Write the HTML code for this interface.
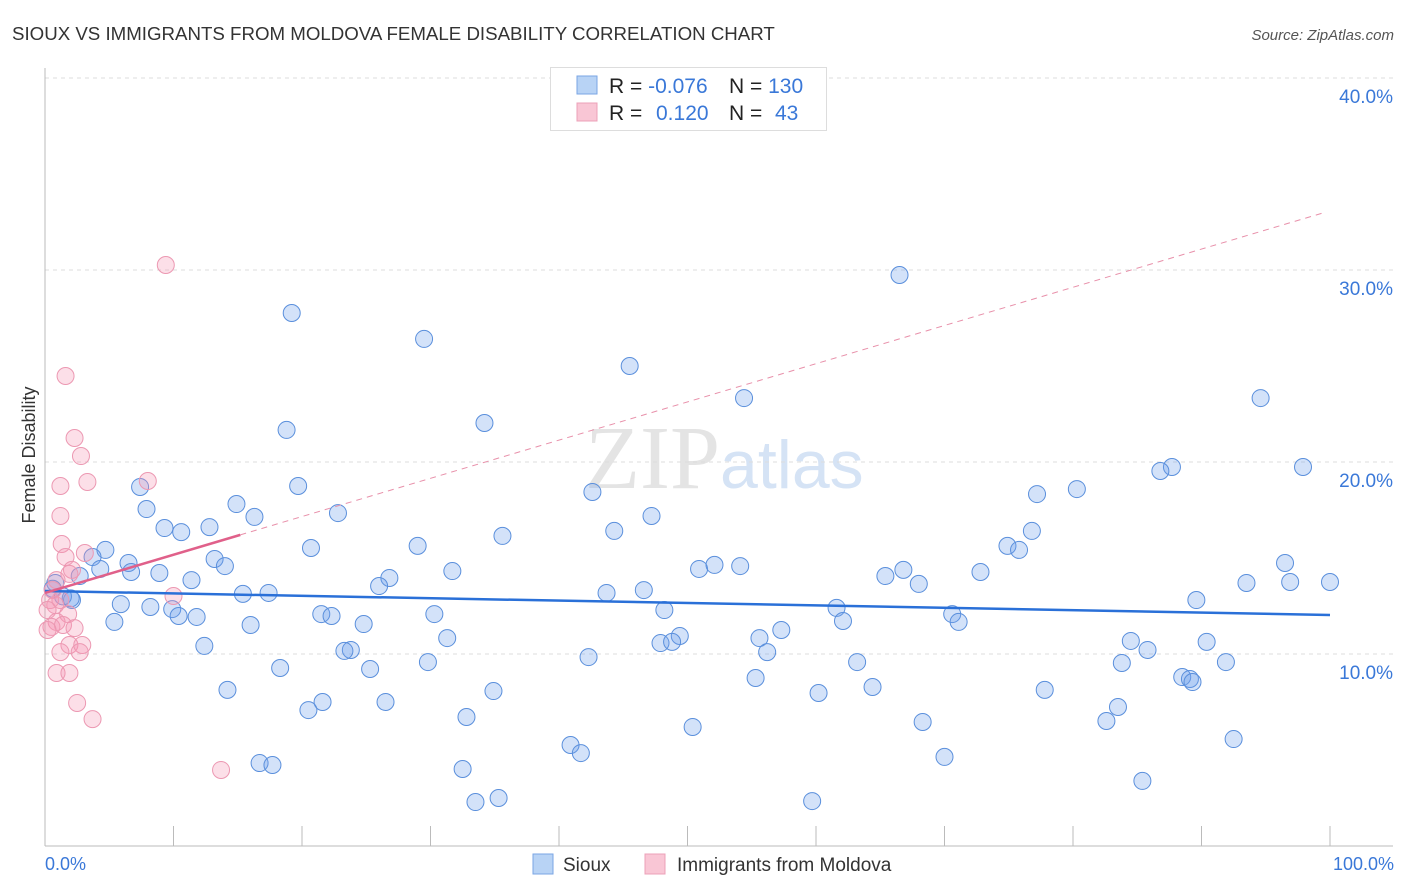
<!DOCTYPE html>
<html><head><meta charset="utf-8"><style>
body{margin:0;background:#fff;font-family:"Liberation Sans",sans-serif;}
svg{display:block}
</style></head><body>
<svg id="chart" width="1406" height="892">
<text x="12" y="40" font-size="18.7" fill="#333">SIOUX VS IMMIGRANTS FROM MOLDOVA FEMALE DISABILITY CORRELATION CHART</text>
<text x="1394" y="40" font-size="15" fill="#555" font-style="italic" text-anchor="end">Source: ZipAtlas.com</text>
<text x="720" y="488" font-size="90" fill="#e4e4e4" text-anchor="end" font-family="Liberation Serif,serif">ZIP</text>
<text x="720" y="488" font-size="68" fill="#d5e3f5">atlas</text>
<g id="grid"></g><g id="axes"></g><g id="pts"></g><g id="trend"></g>
<text x="35" y="455" font-size="18" fill="#333" text-anchor="middle" transform="rotate(-90 35 455)">Female Disability</text>
<text x="45" y="870" font-size="18" fill="#3a78d8">0.0%</text>
<text x="1394" y="870" font-size="18" fill="#3a78d8" text-anchor="end">100.0%</text>
<g>
<rect x="550.5" y="67.5" width="276" height="63" fill="#fff" stroke="#ddd"/>
<rect x="577" y="76" width="20" height="18" fill="#b8d3f5" stroke="#7aa6e4"/>
<rect x="577" y="103" width="20" height="18" fill="#f9c6d5" stroke="#eca0b8"/>
<text x="609" y="93" font-size="21" fill="#222">R = <tspan fill="#3a78d8">-0.076</tspan></text>
<text x="729" y="93" font-size="21" fill="#222">N = <tspan fill="#3a78d8">130</tspan></text>
<text x="609" y="120" font-size="21" fill="#222">R = <tspan fill="#3a78d8" x="656">0.120</tspan></text>
<text x="729" y="120" font-size="21" fill="#222">N = <tspan fill="#3a78d8" x="775">43</tspan></text>
</g>
<g>
<rect x="533" y="854" width="20" height="20" fill="#b8d3f5" stroke="#7aa6e4"/>
<text x="563" y="871" font-size="19" fill="#333">Sioux</text>
<rect x="645" y="854" width="20" height="20" fill="#f9c6d5" stroke="#eca0b8"/>
<text x="677" y="871" font-size="19" fill="#333">Immigrants from Moldova</text>
</g>
</svg>
<script>
const yTicks=[10,20,30,40];
const yTickLabels=["10.0%","20.0%","30.0%","40.0%"];
const xTicks=[0,10,20,30,40,50,60,70,80,90,100];
const siouxX=[19.2,29.5,45.5,66.5,54.4,34.2,18.8,94.6,97.9,87.7,86.8,80.3,77.2,19.7,7.4,42.6,14.9,7.9,16.3,22.8,47.2,12.8,9.3,10.6,44.3,35.6,76.8,29.0,20.7,74.9,75.8,4.7,3.7,13.2,4.3,6.5,14.0,50.9,52.1,54.1,66.8,65.4,96.5,31.7,8.9,6.7,2.7,11.4,26.8,26.0,72.8,68.0,100.0,93.5,96.9,46.6,0.8,15.4,17.4,43.7,89.6,2.1,5.9,8.2,9.9,10.4,11.8,48.2,61.6,21.5,22.3,30.3,70.6,62.1,71.1,5.4,16.0,24.8,57.3,31.3,49.4,55.6,47.9,48.8,84.5,90.4,12.4,23.8,23.3,56.2,85.8,42.3,29.8,63.2,91.9,83.8,25.3,18.3,55.3,88.5,89.1,89.3,14.2,34.9,64.4,77.8,60.2,21.6,26.5,20.5,83.5,82.6,32.8,68.3,50.4,92.5,40.9,41.7,70.0,16.7,17.7,32.5,85.4,33.5,35.3,59.7,0.6,1.4,2.0];
const siouxY=[27.76,26.41,25.0,29.74,23.33,22.03,21.67,23.33,19.74,19.74,19.53,18.59,18.33,18.75,18.7,18.44,17.81,17.55,17.14,17.34,17.19,16.61,16.56,16.35,16.41,16.15,16.41,15.63,15.52,15.63,15.42,15.42,15.05,14.95,14.43,14.74,14.58,14.43,14.64,14.58,14.38,14.06,14.74,14.32,14.22,14.27,14.06,13.85,13.96,13.54,14.27,13.65,13.75,13.7,13.75,13.33,13.7,13.13,13.18,13.18,12.81,12.81,12.6,12.45,12.34,11.98,11.93,12.29,12.4,12.08,11.98,12.08,12.08,11.72,11.67,11.67,11.51,11.56,11.25,10.83,10.94,10.83,10.57,10.63,10.68,10.63,10.42,10.21,10.16,10.1,10.21,9.84,9.58,9.58,9.58,9.53,9.22,9.27,8.75,8.8,8.7,8.54,8.13,8.07,8.28,8.13,7.97,7.5,7.5,7.08,7.24,6.51,6.72,6.46,6.2,5.57,5.26,4.84,4.64,4.32,4.22,4.01,3.39,2.29,2.5,2.34,13.4,13.0,12.9];
const moldX=[9.4,1.6,2.3,2.8,3.3,1.2,8.0,1.2,1.3,1.6,3.1,2.1,1.9,0.9,0.6,10.0,0.4,1.2,0.8,0.2,1.8,0.9,0.5,1.4,0.2,2.3,1.9,2.9,1.2,2.7,0.9,1.9,2.5,3.7,13.7];
const moldY=[30.26,24.48,21.25,20.31,18.96,18.75,19.01,17.19,15.73,15.05,15.26,14.38,14.17,13.85,13.33,13.02,12.81,12.81,12.55,12.29,12.08,11.67,11.41,11.51,11.25,11.35,10.47,10.47,10.1,10.1,9.01,9.01,7.45,6.61,3.96];
const siouxTrend=[13.28,12.03];
const moldTrend=[13.18,33.08];
const X=v=>45+v*12.85, Y=v=>846-v*19.2;
const NS="http://www.w3.org/2000/svg";
function mk(t,a,p){const e=document.createElementNS(NS,t);for(const k in a)e.setAttribute(k,a[k]);document.getElementById(p).appendChild(e);return e;}
yTicks.forEach((t,i)=>{
 const g=mk('line',{x1:45,x2:1393,y1:Y(t),y2:Y(t),stroke:'#ddd','stroke-dasharray':'4 4'},'grid');
 
 
 const l=mk('text',{x:1393,y:Y(t)+25,'font-size':19,fill:'#3a78d8','text-anchor':'end'},'grid');
 l.textContent=yTickLabels[i];
 
 
});
const ya=mk('line',{x1:45,x2:45,y1:68,y2:846,stroke:'#bbb'},'axes');


const xa=mk('line',{x1:45,x2:1393,y1:846,y2:846,stroke:'#bbb'},'axes');


xTicks.forEach(t=>{const e=mk('line',{x1:X(t),x2:X(t),y1:826,y2:846,stroke:'#bbb'},'axes');
 
 });
siouxX.forEach((v,i)=>{const c=mk('circle',{cx:X(v),cy:Y(siouxY[i]),r:8.5,fill:'rgba(110,160,235,0.3)',stroke:'#5a8fdc','stroke-width':1},'pts');
 
 });
moldX.forEach((v,i)=>{const c=mk('circle',{cx:X(v),cy:Y(moldY[i]),r:8.5,fill:'rgba(245,150,180,0.3)',stroke:'#ec98b2','stroke-width':1},'pts');
 
 });
const bt=mk('line',{x1:X(0),y1:Y(siouxTrend[0]),x2:X(100),y2:Y(siouxTrend[1]),stroke:'#2a70d8','stroke-width':2.5},'trend');


const my=x=>moldTrend[0]+(moldTrend[1]-moldTrend[0])*x/100;
const pt=mk('line',{x1:X(0),y1:Y(my(0)),x2:X(15.2),y2:Y(my(15.2)),stroke:'#e0608a','stroke-width':2.5},'trend');


const pd=mk('line',{x1:X(15.2),y1:Y(my(15.2)),x2:X(99.6),y2:Y(my(99.6)),stroke:'#e890aa','stroke-width':1,'stroke-dasharray':'6 5'},'trend');


</script>
</body></html>
